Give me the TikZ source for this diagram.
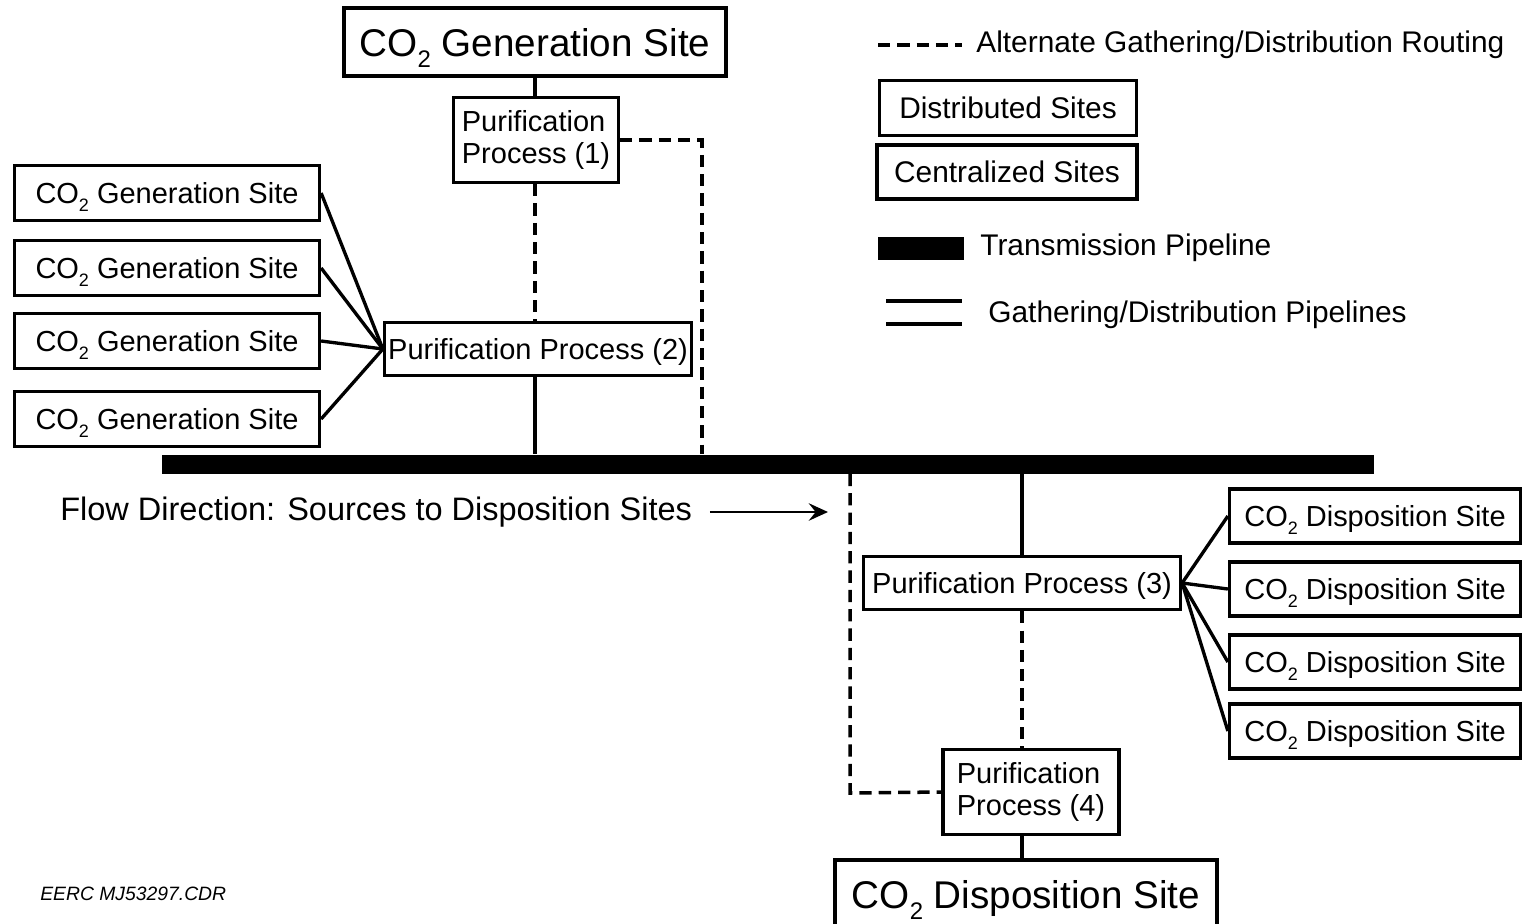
\documentclass[tikz,border=0pt]{standalone}
\usepackage{fontspec}
\setmainfont{Liberation Sans}
\usepackage{tikz}
\usetikzlibrary{arrows,arrows.meta}

\newcommand{\COtwo}{CO\raisebox{-0.55ex}[0pt][0pt]{\scalebox{0.62}{2}}}
\newcommand{\sitefont}{\fontsize{16.5}{18}\selectfont}
\newcommand{\bigsitefont}{\fontsize{22}{26}\selectfont}
\newcommand{\legendfont}{\fontsize{17}{20}\selectfont}

\tikzstyle{site} = [rectangle, draw=black, line width=1.9pt, minimum width=6.1cm, minimum height=1.1cm, inner sep=2pt, text depth=0pt, font=\sitefont]
\tikzstyle{dispsite} = [site, minimum width=5.82cm, minimum height=1.08cm]
\tikzstyle{bigsite} = [rectangle, draw=black, line width=2.1pt, minimum width=7.64cm, minimum height=1.36cm, inner sep=2pt, text depth=0pt, font=\bigsitefont]
\tikzstyle{process} = [rectangle, draw=black, line width=1.9pt, minimum height=1.06cm, inner sep=2pt, text depth=0pt, font=\sitefont]
\tikzstyle{process2} = [rectangle, draw=black, line width=1.9pt, inner sep=2pt, font=\sitefont, align=left, minimum height=1.7cm]
\tikzstyle{pipe} = [line width=1.9pt]
\tikzstyle{altroute} = [line width=2pt, dash pattern=on 7pt off 4pt]
\tikzstyle{arrow} = [line width=1.3pt, -{Stealth[length=11pt, width=10pt, inset=4pt]}]

\begin{document}
\begin{tikzpicture}[x=0.02cm, y=-0.02cm]
        \useasboundingbox (0,0) rectangle (1524,923);

        % Nodes
        \node (gentop) [bigsite] at (535,42) {\COtwo{} Generation Site};
        \node (pp1) [process2, minimum width=3.3cm] at (536,140) {Purification\\Process (1)};
        \node (pp2) [process, minimum width=6.14cm] at (538,349) {Purification Process (2)};
        \node (gen1) [site] at (167,193) {\COtwo{} Generation Site};
        \node (gen2) [site] at (167,268) {\COtwo{} Generation Site};
        \node (gen3) [site] at (167,341) {\COtwo{} Generation Site};
        \node (gen4) [site] at (167,419) {\COtwo{} Generation Site};
        \node (trans) [rectangle, fill=black, inner sep=0pt, minimum width=24.26cm, minimum height=0.38cm] at (768,464) {};
        \node (flow) [font=\fontsize{18.5}{20}\selectfont, anchor=west, inner sep=0pt] at (60,512) {Flow Direction: Sources to Disposition Sites};
        \coordinate (flowend) at (828,512);
        \node (pp3) [process, minimum width=6.34cm] at (1022,583) {Purification Process (3)};
        \node (pp4) [process2, minimum width=3.52cm] at (1031,792) {Purification\\Process (4)};
        \node (dispbig) [bigsite] at (1026,894) {\COtwo{} Disposition Site};
        \node (disp1) [dispsite] at (1375,516) {\COtwo{} Disposition Site};
        \node (disp2) [dispsite] at (1375,589) {\COtwo{} Disposition Site};
        \node (disp3) [dispsite] at (1375,662) {\COtwo{} Disposition Site};
        \node (disp4) [dispsite] at (1375,731) {\COtwo{} Disposition Site};
        \node (eerc) [font=\fontsize{11}{13}\selectfont\itshape, anchor=west, inner sep=0pt] at (40,894) {EERC MJ53297.CDR};
        \coordinate (alt1) at (702,140);
        \coordinate (alt2) at (850,793);

        % Legend
        \coordinate (lgdashA) at (878,45);
        \coordinate (lgdashB) at (962,45);
        \node (lgalt) [font=\legendfont, anchor=west, inner sep=0pt] at (976,45) {Alternate Gathering/Distribution Routing};
        \node (lgdist) [rectangle, draw=black, line width=1.9pt, minimum width=5.14cm, minimum height=1.1cm, font=\legendfont] at (1008,108) {Distributed Sites};
        \node (lgcent) [rectangle, draw=black, line width=2.3pt, minimum width=5.2cm, minimum height=1.08cm, font=\legendfont] at (1007,172) {Centralized Sites};
        \node (lgtrans) [rectangle, fill=black, inner sep=0pt, minimum width=1.72cm, minimum height=0.46cm] at (921,248) {};
        \node (lgtranstext) [font=\legendfont, anchor=west, inner sep=0pt] at (980,248) {Transmission Pipeline};
        \coordinate (lggathA) at (886,301);
        \coordinate (lggathB) at (962,301);
        \coordinate (lggathC) at (886,324);
        \coordinate (lggathD) at (962,324);
        \node (lggathtext) [font=\legendfont, anchor=west, inner sep=0pt] at (988,315) {Gathering/Distribution Pipelines};

        % Arrows
        \draw [pipe] (gentop.south) -- (gentop.south |- pp1.north);
        \draw [altroute] (gentop.south |- pp1.south) -- (gentop.south |- pp2.north);
        \draw [pipe] (gentop.south |- pp2.south) -- (gentop.south |- trans.north);
        \draw [altroute] (pp1.east) -- (alt1) -- (alt1 |- trans.north);
        \draw [pipe] (gen1.east) -- (pp2.west);
        \draw [pipe] (gen2.east) -- (pp2.west);
        \draw [pipe] (gen3.east) -- (pp2.west);
        \draw [pipe] (gen4.east) -- (pp2.west);
        \draw [arrow] ([xshift=10pt]flow.east) -- (flowend);
        \draw [pipe] (pp3.north |- trans.south) -- (pp3.north);
        \draw [altroute] (pp3.south) -- (pp3.south |- pp4.north);
        \draw [pipe] (pp3.south |- pp4.south) -- (pp3.south |- dispbig.north);
        \draw [altroute] (alt2 |- trans.south) -- (alt2) -- (pp4.west);
        \draw [pipe] (pp3.east) -- (disp1.west);
        \draw [pipe] (pp3.east) -- (disp2.west);
        \draw [pipe] (pp3.east) -- (disp3.west);
        \draw [pipe] (pp3.east) -- (disp4.west);
        \draw [altroute] (lgdashA) -- (lgdashB);
        \draw [line width=2.4pt] (lggathA) -- (lggathB);
        \draw [line width=2.4pt] (lggathC) -- (lggathD);

\end{tikzpicture}
\end{document}
